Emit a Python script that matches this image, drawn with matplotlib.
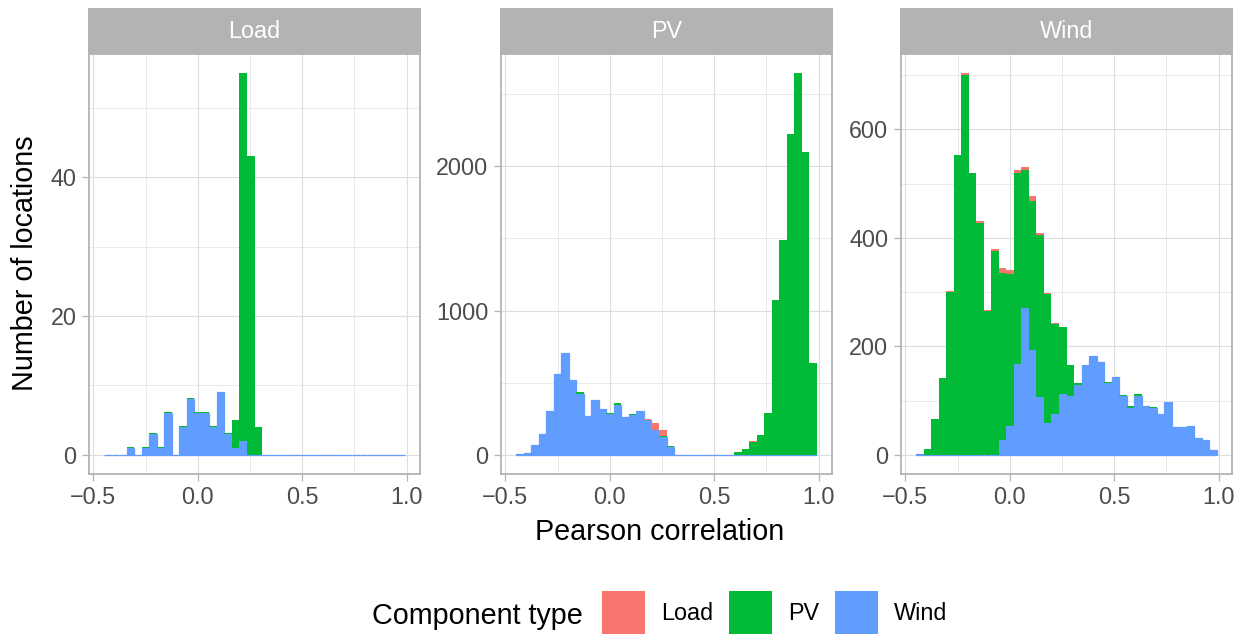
import numpy as np
import matplotlib
matplotlib.use("Agg")
import matplotlib.pyplot as plt
from matplotlib.ticker import MultipleLocator, FuncFormatter
from matplotlib.patches import Patch

plt.rcParams['font.family'] = ['Liberation Sans', 'DejaVu Sans']

# Histogram binning of the correlation values (40 equal-width bins)
N_BINS = 40
BIN_LO = -0.449
BIN_HI = 0.992

FACETS = ["Load", "PV", "Wind"]
TYPES = ["Load", "PV", "Wind"]
COLORS = {"Load": "#F8766D", "PV": "#00BA38", "Wind": "#619CFF"}

# Counts per bin, facet "Load"
LOAD_WIND = [0, 0, 0, 1, 0, 1, 3, 1, 6, 0,
             4, 8, 6, 6, 4, 9, 3, 1, 2, 0,
             0, 0, 0, 0, 0, 0, 0, 0, 0, 0,
             0, 0, 0, 0, 0, 0, 0, 0, 0, 0]
LOAD_PV = [0, 0, 0, 0.15, 0, 0.15, 0.15, 0.15, 0.15, 0,
           0.15, 0.15, 0.15, 0.15, 0.15, 0, 0.15, 4, 53, 43,
           4, 0, 0, 0, 0, 0, 0, 0, 0, 0,
           0, 0, 0, 0, 0, 0, 0, 0, 0, 0]
LOAD_LOAD = [0] * 40

# Counts per bin, facet "PV"
PV_WIND = [5, 14, 69, 145, 303, 559, 703, 522, 423, 267,
           379, 317, 283, 349, 260, 276, 301, 241, 172, 124,
           55, 0, 0, 0, 0, 0, 0, 0, 0, 0,
           0, 0, 0, 0, 0, 0, 0, 0, 0, 0]
PV_PV = [0, 0, 0, 0, 0, 0, 0, 0, 11, 0,
         0, 0, 7, 10, 0, 7, 0, 0, 0, 7,
         7, 0, 0, 0, 0, 0, 0, 0, 0, 18,
         39, 87, 136, 287, 1074, 1487, 2225, 2646, 2101, 639]
PV_LOAD = [0, 0, 0, 0, 0, 0, 0, 0, 0, 0,
           0, 0, 0, 0, 0, 0, 0, 7, 49, 39,
           0, 0, 0, 0, 0, 0, 0, 0, 0, 0,
           0, 7, 0, 0, 0, 0, 0, 0, 0, 0]

# Counts per bin, facet "Wind"
WIND_WIND = [1, 0, 0, 0, 0, 0, 0, 0, 0, 0,
             0, 27, 53, 168, 271, 194, 106, 58, 75, 113,
             109, 128, 166, 183, 172, 132, 144, 109, 87, 109,
             91, 86, 76, 97, 51, 51, 54, 32, 27, 9]
WIND_PV = [0, 10, 67, 141, 300, 553, 700, 520, 427, 265,
           376, 309, 280, 351, 255, 275, 299, 239, 166, 123,
           56, 4, 0, 0, 0, 2, 0, 2, 3, 3,
           0, 2, 0, 0, 0, 0, 0, 0, 0, 0]
WIND_LOAD = [0, 0, 0, 0, 2, 0, 4, 0, 5, 2,
             4, 8, 8, 7, 5, 9, 4, 2, 2, 0,
             0, 0, 0, 0, 0, 0, 0, 0, 0, 0,
             0, 0, 0, 0, 0, 0, 0, 0, 0, 0]

COUNTS = {
    "Load": {"Wind": LOAD_WIND, "PV": LOAD_PV, "Load": LOAD_LOAD},
    "PV": {"Wind": PV_WIND, "PV": PV_PV, "Load": PV_LOAD},
    "Wind": {"Wind": WIND_WIND, "PV": WIND_PV, "Load": WIND_LOAD},
}
Y_STEP = {"Load": 20, "PV": 1000, "Wind": 200}
X_TICKS = [-0.5, 0.0, 0.5, 1.0]

# Figure geometry (pixels)
W, H = 1245, 634
PANEL_X = [(89, 420), (501, 832), (901, 1232)]
STRIP_TOP, PANEL_TOP, PANEL_BOTTOM = 8, 54, 474

GRID = "#DEDEDE"
BORDER = "#B3B3B3"
TICK_TXT = "#4D4D4D"
FS_TICK = 16.8
FS_TITLE = 20.7


def box(l, t, r, b):
    return [l / W, 1 - b / H, (r - l) / W, (b - t) / H]


fig = plt.figure(figsize=(W / 100, H / 100), dpi=100)

edges = np.linspace(BIN_LO, BIN_HI, N_BINS + 1)
centers = (edges[:-1] + edges[1:]) / 2
bw = edges[1] - edges[0]
xr = BIN_HI - BIN_LO
xlim = (BIN_LO - 0.05 * xr, BIN_HI + 0.05 * xr)


def fmt_x(v, _):
    return f"{v:.1f}".replace("-", "\u2212")


for facet, (l, r) in zip(FACETS, PANEL_X):
    ax = fig.add_axes(box(l, PANEL_TOP, r, PANEL_BOTTOM))
    ax.set_facecolor("white")
    data = COUNTS[facet]
    bottom = np.zeros(N_BINS)
    # stacked: Wind at the bottom, then PV, then Load on top
    for t in ["Wind", "PV", "Load"]:
        vals = np.asarray(data[t], dtype=float)
        if t == "Wind":
            # a thin outline keeps empty bins visible along the baseline
            ax.bar(centers, vals, width=bw, bottom=bottom, color=COLORS[t],
                   edgecolor=COLORS[t], linewidth=0.9, zorder=3)
        else:
            ax.bar(centers, vals, width=bw, bottom=bottom, color=COLORS[t],
                   linewidth=0, zorder=3)
        bottom = bottom + vals
    ymax = bottom.max()
    ax.set_ylim(-0.05 * ymax, 1.05 * ymax)
    ax.set_xlim(*xlim)

    ax.set_xticks(X_TICKS)
    ax.xaxis.set_minor_locator(MultipleLocator(0.25))
    ax.xaxis.set_major_formatter(FuncFormatter(fmt_x))
    ax.yaxis.set_major_locator(MultipleLocator(Y_STEP[facet]))
    ax.yaxis.set_minor_locator(MultipleLocator(Y_STEP[facet] / 2))
    ax.yaxis.set_major_formatter(FuncFormatter(lambda v, _: f"{v:.0f}"))

    ax.grid(True, which="major", color=GRID, linewidth=0.85, zorder=0)
    ax.grid(True, which="minor", color=GRID, linewidth=0.45, zorder=0)
    ax.set_axisbelow(True)
    ax.tick_params(which="major", length=5, width=0.9, color=BORDER,
                   labelsize=FS_TICK, labelcolor=TICK_TXT, pad=4)
    ax.tick_params(which="minor", length=0)
    for s in ax.spines.values():
        s.set_color(BORDER)
        s.set_linewidth(1.3)
        s.set_zorder(5)

    # facet strip
    sax = fig.add_axes(box(l - 1, STRIP_TOP, r + 1, PANEL_TOP))
    sax.set_facecolor(BORDER)
    sax.set_xticks([])
    sax.set_yticks([])
    for s in sax.spines.values():
        s.set_visible(False)
    sax.text(0.5, 0.5, facet, transform=sax.transAxes, ha="center",
             va="center", color="white", fontsize=FS_TICK)

# axis titles
fig.text(25 / W, 1 - 263 / H, "Number of locations", rotation=90,
         ha="center", va="center", fontsize=FS_TITLE, color="black")
fig.text(660 / W, 1 - 540 / H, "Pearson correlation", ha="center",
         va="baseline", fontsize=FS_TITLE, color="black")

# legend
fig.text(372 / W, 1 - 624 / H, "Component type", ha="left",
         va="baseline", fontsize=FS_TITLE, color="black")
handles = [Patch(facecolor=COLORS[t], edgecolor="none", label=t) for t in TYPES]
fig.legend(handles=handles, loc="center left",
           bbox_to_anchor=(602 / W, 1 - 613 / H), ncol=3, frameon=False,
           fontsize=FS_TICK, handlelength=1.85, handleheight=2.46,
           handletextpad=0.68, columnspacing=0.68, borderpad=0,
           borderaxespad=0)

fig.savefig("out.png", dpi=100)
